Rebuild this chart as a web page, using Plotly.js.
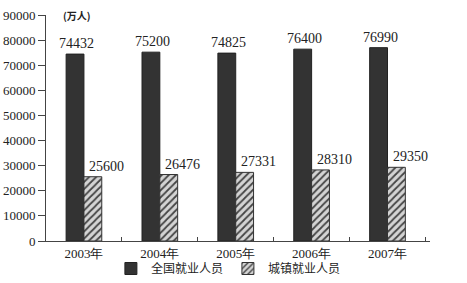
<!DOCTYPE html>
<html><head><meta charset="utf-8">
<script src="https://cdn.plot.ly/plotly-3.0.1.min.js"></script>
<style>html,body{margin:0;padding:0;background:#fff}#c{width:467px;height:283px}</style>
</head><body><div id="c"></div>
<script>
const years = ['2003年','2004年','2005年','2006年','2007年'];
const nationalEmployed = [74432, 75200, 74825, 76400, 76990];
const urbanEmployed = [25600, 26476, 27331, 28310, 29350];
const seriesNames = ['全国就业人员','城镇就业人员'];
const unitLabel = '(万人)';

const serif = 'Liberation Serif, Times New Roman, serif';
const traces = [
  {type:'bar', x:years, y:nationalEmployed, name:seriesNames[0],
   marker:{color:'#333333', line:{color:'#222', width:1}}},
  {type:'bar', x:years, y:urbanEmployed, name:seriesNames[1],
   marker:{color:'#d0d0d0', line:{color:'#333', width:1},
     pattern:{shape:'/', fgcolor:'#444', bgcolor:'#d4d4d4', size:5, solidity:0.35}}}
];
const ann = [];
years.forEach((yr,i)=>{
  ann.push({x:yr, y:nationalEmployed[i], xref:'x', yref:'y', text:String(nationalEmployed[i]),
    showarrow:false, yanchor:'bottom', xshift:-7, yshift:1, font:{family:serif,size:14,color:'#222'}});
  ann.push({x:yr, y:urbanEmployed[i], xref:'x', yref:'y', text:String(urbanEmployed[i]),
    showarrow:false, yanchor:'bottom', xshift:23, yshift:1, font:{family:serif,size:14,color:'#222'}});
});
ann.push({x:0.04, y:1.0, xref:'paper', yref:'paper', text:'<b>'+unitLabel+'</b>', showarrow:false,
  xanchor:'left', yanchor:'middle', font:{family:'Noto Sans CJK SC', size:10, color:'#222'}});

const layout = {
  width:467, height:283,
  margin:{l:46, r:37, t:15, b:42, autoexpand:false},
  paper_bgcolor:'#fff', plot_bgcolor:'#fff',
  barmode:'group', bargap:0.53, bargroupgap:0,
  showlegend:true,
  legend:{orientation:'h', x:0.475, xanchor:'center', yref:'container', y:0.0, yanchor:'bottom',
    bgcolor:'rgba(0,0,0,0)', borderwidth:0,
    font:{family:'Noto Sans CJK SC', size:12, color:'#222'}, itemwidth:30, tracegroupgap:0},
  xaxis:{type:'category', showline:true, linecolor:'#444', linewidth:1, showgrid:false,
    ticks:'inside', tickson:'boundaries', ticklen:4, tickcolor:'#444', automargin:false,
    tickfont:{family:serif, size:13, color:'#222'}, zeroline:false},
  yaxis:{range:[0,90000], dtick:10000, showline:true, linecolor:'#444', linewidth:1, showgrid:false,
    ticks:'outside', ticklen:7, tickcolor:'#444', zeroline:false, automargin:false,
    tickfont:{family:serif, size:13, color:'#222'}, tickformat:'d'},
  annotations:ann
};
Plotly.newPlot('c', traces, layout, {displayModeBar:false, staticPlot:true});
</script></body></html>
